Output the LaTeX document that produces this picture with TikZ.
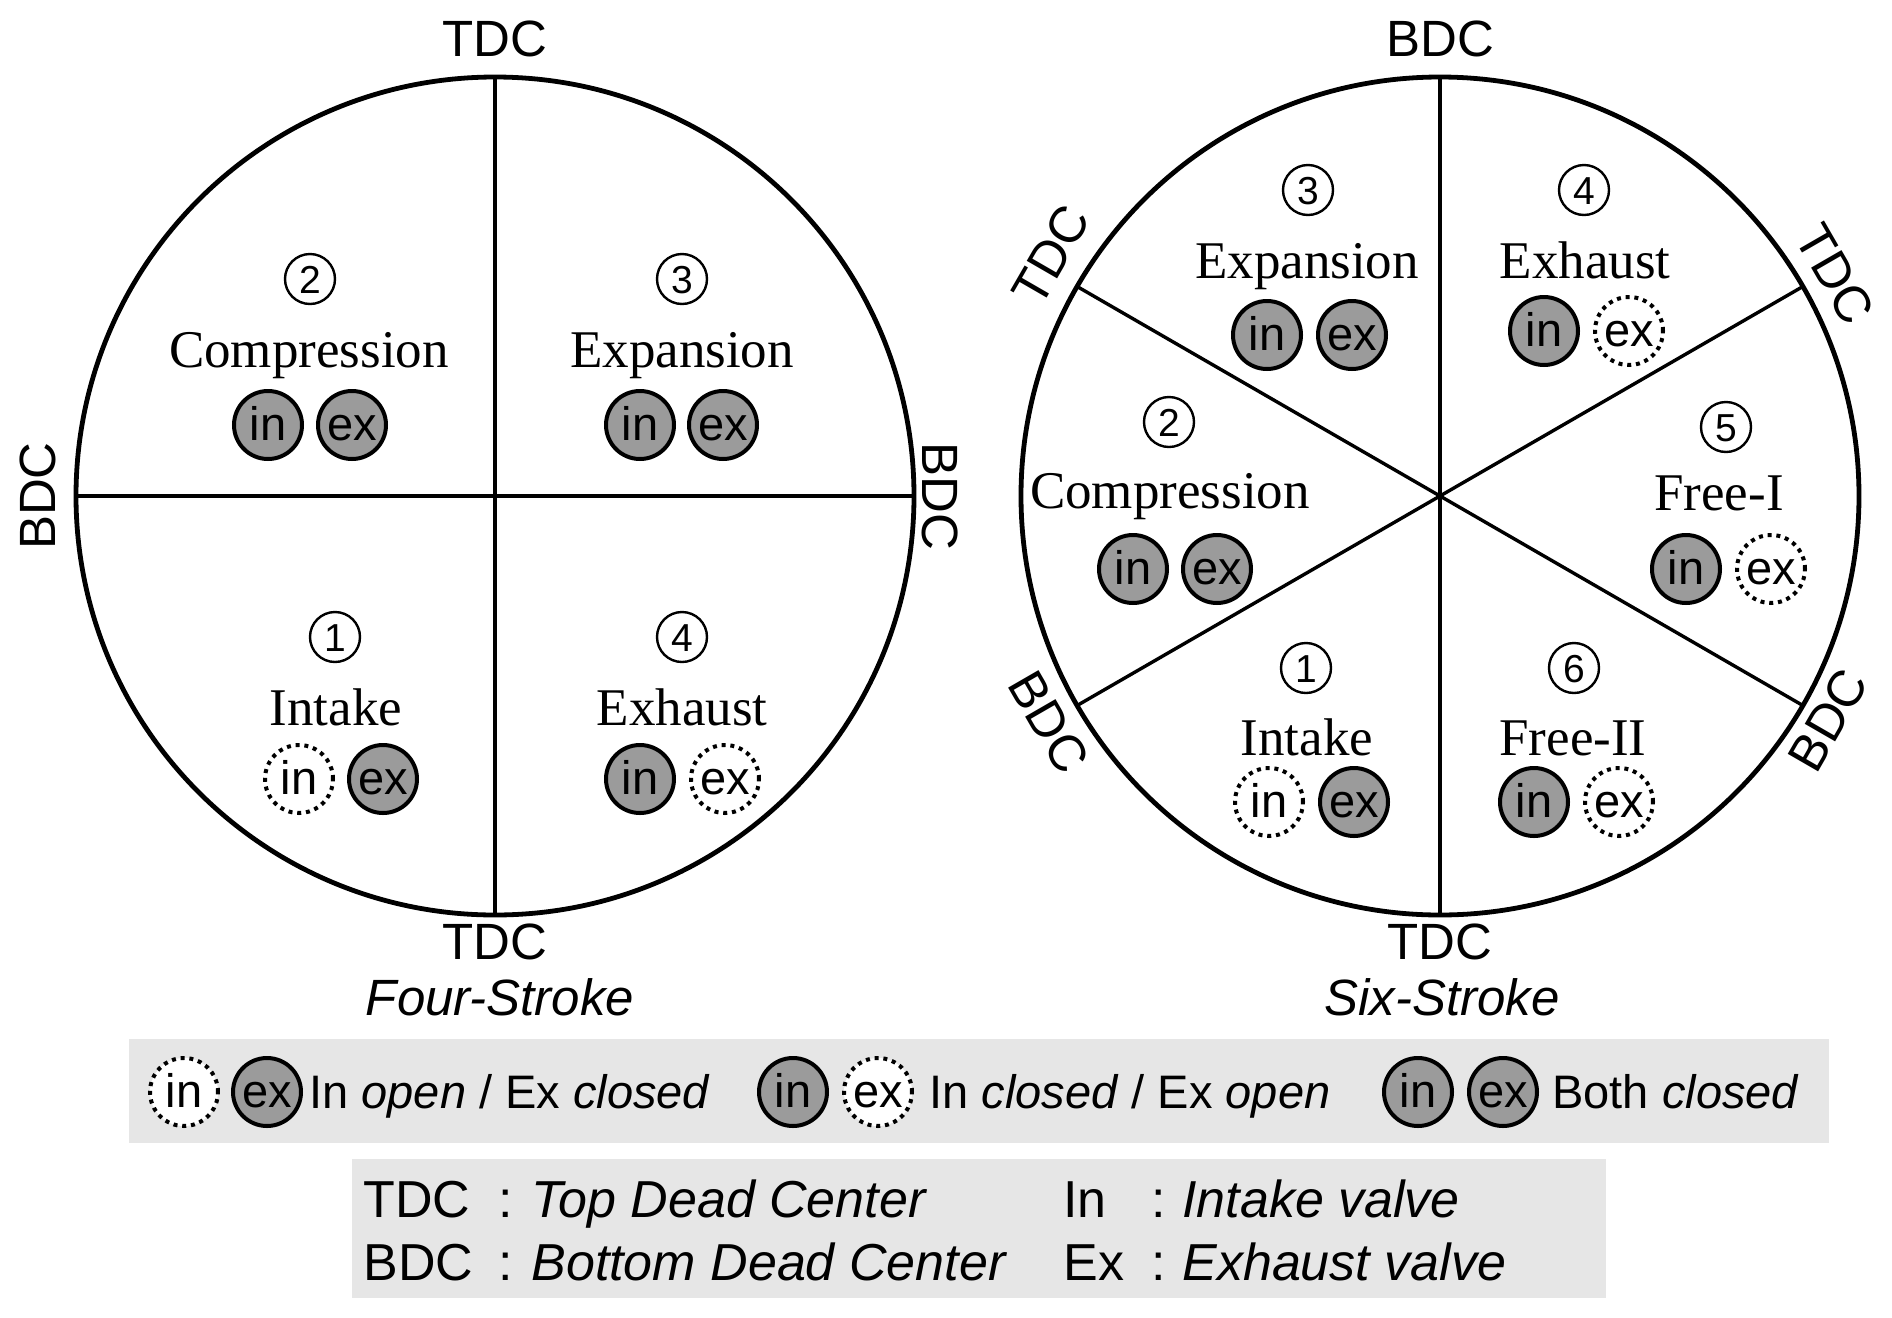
\documentclass[tikz,border=0pt]{standalone}
\usepackage{fontspec}
\setmainfont{Liberation Serif}
\setsansfont{Liberation Sans}
\definecolor{vgray}{HTML}{9B9B9B}
\definecolor{lgray}{HTML}{E6E6E6}
\tikzset{
  big/.style={circle, draw, line width=2.4pt, minimum size=419pt, inner sep=0pt, outer sep=0pt},
  divl/.style={line width=1.7pt},
  lab/.style={font=\sffamily\fontsize{25.5}{30}\selectfont, inner sep=0pt},
  ttl/.style={font=\sffamily\itshape\fontsize{25.5}{30}\selectfont, inner sep=0pt},
  word/.style={font=\fontsize{26.5}{30}\selectfont, anchor=base, inner sep=0pt},
  num/.style={circle, draw, line width=1.2pt, minimum size=25pt, inner sep=0pt, text height=14pt, text depth=0pt, font=\sffamily\fontsize{19.5}{22}\selectfont},
  valve/.style={circle, line width=2pt, minimum size=34pt, inner sep=0pt, text height=15pt, text depth=0pt, font=\sffamily\fontsize{23.5}{26}\selectfont},
  vcl/.style={valve, draw, fill=vgray},
  vop/.style={valve, draw, dash pattern=on 2pt off 2.4pt, fill=white},
  leg/.style={font=\sffamily\fontsize{23.5}{26}\selectfont, anchor=base west, inner sep=0pt},
  legb/.style={font=\sffamily\fontsize{26}{30}\selectfont, anchor=base west, inner sep=0pt},
}
\begin{document}
\begin{tikzpicture}[x=0.5pt, y=-0.5pt]
\useasboundingbox (0,0) rectangle (1892,1318);
% ---------- Four-stroke ----------
\node[big] (C1) at (495,496) {};
\draw[divl] (C1.north) -- (C1.south);
\draw[divl] (C1.west) -- (C1.east);
\node[lab] (t1top) at (495,39) {TDC};
\node[lab] (t1bot) at (495,942) {TDC};
\node[lab, rotate=90] (b1left) at (38,496) {BDC};
\node[lab, rotate=-90] (b1right) at (940,496) {BDC};
\node[ttl] (four) at (500,997) {Four-Stroke};
% sector 2
\node[num] (L2n) at (310,279) {2};
\node[word] (L2w) at (309,367) {Compression};
\node[vcl] (L2i) at (268,425) {in};
\node[vcl] (L2e) at (352,425) {ex};
% sector 3
\node[num] (L3n) at (682,279) {3};
\node[word] (L3w) at (682,367) {Expansion};
\node[vcl] (L3i) at (640,425) {in};
\node[vcl] (L3e) at (723,425) {ex};
% sector 1
\node[num] (L1n) at (335,637) {1};
\node[word] (L1w) at (336,725) {Intake};
\node[vop] (L1i) at (299,779) {in};
\node[vcl] (L1e) at (383,779) {ex};
% sector 4
\node[num] (L4n) at (682,637) {4};
\node[word] (L4w) at (682,725) {Exhaust};
\node[vcl] (L4i) at (640,779) {in};
\node[vop] (L4e) at (725,779) {ex};
% ---------- Six-stroke ----------
\node[big] (C2) at (1440,496) {};
\draw[divl] (C2.north) -- (C2.south);
\draw[divl] (C2.150) -- (C2.330);
\draw[divl] (C2.30) -- (C2.210);
\node[lab] (b2top) at (1440,39) {BDC};
\node[lab] (t2bot) at (1440,942) {TDC};
\node[lab, rotate=60] (t2ul) at (1051,255) {TDC};
\node[lab, rotate=-60] (t2ur) at (1835,274) {TDC};
\node[lab, rotate=-60] (b2ll) at (1049,722) {BDC};
\node[lab, rotate=60] (b2lr) at (1828,720) {BDC};
\node[ttl] (six) at (1442,997) {Six-Stroke};
% sector 3
\node[num] (R3n) at (1308,190) {3};
\node[word] (R3w) at (1307,278) {Expansion};
\node[vcl] (R3i) at (1267,335) {in};
\node[vcl] (R3e) at (1352,335) {ex};
% sector 4
\node[num] (R4n) at (1584,190) {4};
\node[word] (R4w) at (1585,278) {Exhaust};
\node[vcl] (R4i) at (1544,331) {in};
\node[vop] (R4e) at (1629,331) {ex};
% sector 2
\node[num] (R2n) at (1169,422) {2};
\node[word] (R2w) at (1170,508) {Compression};
\node[vcl] (R2i) at (1133,569) {in};
\node[vcl] (R2e) at (1217,569) {ex};
% sector 5
\node[num] (R5n) at (1726,427) {5};
\node[word] (R5w) at (1719,510) {Free-I};
\node[vcl] (R5i) at (1686,569) {in};
\node[vop] (R5e) at (1771,569) {ex};
% sector 1
\node[num] (R1n) at (1306,668) {1};
\node[word] (R1w) at (1307,755) {Intake};
\node[vop] (R1i) at (1269,802) {in};
\node[vcl] (R1e) at (1354,802) {ex};
% sector 6
\node[num] (R6n) at (1574,668) {6};
\node[word] (R6w) at (1573,755) {Free-II};
\node[vcl] (R6i) at (1534,802) {in};
\node[vop] (R6e) at (1619,802) {ex};
% ---------- Legend 1 ----------
\node[fill=lgray, inner sep=0pt, minimum width=850pt, minimum height=52pt] (legA) at (979,1091) {};
\node[vop] (A1i) at (184,1092) {in};
\node[vcl] (A1e) at (267,1092) {ex};
\node[leg] (A1t) at (309,1108) {In \textit{open} / Ex \textit{closed}};
\node[vcl] (A2i) at (793,1092) {in};
\node[vop] (A2e) at (878,1092) {ex};
\node[leg] (A2t) at (929,1108) {In \textit{closed} / Ex \textit{open}};
\node[vcl] (A3i) at (1418,1092) {in};
\node[vcl] (A3e) at (1503,1092) {ex};
\node[leg] (A3t) at (1552,1108) {Both \textit{closed}};
% ---------- Legend 2 ----------
\node[fill=lgray, inner sep=0pt, minimum width=627pt, minimum height=69.5pt] (legB) at (979,1228.5) {};
\node[legb] (B1a) at (363,1217) {TDC};
\node[legb] (B1b) at (498,1217) {:};
\node[legb] (B1c) at (531,1217) {\textit{Top Dead Center}};
\node[legb] (B1d) at (1063,1217) {In};
\node[legb] (B1e) at (1151,1217) {:};
\node[legb] (B1f) at (1182,1217) {\textit{Intake valve}};
\node[legb] (B2a) at (363,1280) {BDC};
\node[legb] (B2b) at (498,1280) {:};
\node[legb] (B2c) at (531,1280) {\textit{Bottom Dead Center}};
\node[legb] (B2d) at (1063,1280) {Ex};
\node[legb] (B2e) at (1151,1280) {:};
\node[legb] (B2f) at (1182,1280) {\textit{Exhaust valve}};
\end{tikzpicture}
\end{document}
